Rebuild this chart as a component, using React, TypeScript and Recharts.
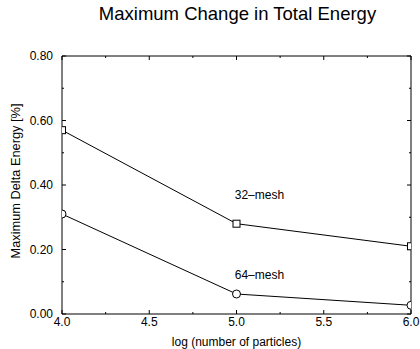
import React from 'react';
import { LineChart, Line, XAxis, YAxis, ReferenceDot, ReferenceArea, ReferenceLine } from 'recharts';

const particlesLog = [4.0, 5.0, 6.0];
const mesh32 = [0.57, 0.28, 0.21];
const mesh64 = [0.31, 0.062, 0.027];
const xMajor = [4.0, 4.5, 5.0, 5.5, 6.0];
const xMinor = [4.25, 4.75, 5.25, 5.75];
const yMajor = [0, 0.2, 0.4, 0.6, 0.8];
const yMinor = [0.1, 0.3, 0.5, 0.7];

const X_MIN = 4, X_MAX = 6, Y_MIN = 0, Y_MAX = 0.8;

const data = particlesLog.map((x, i) => ({ x, m32: mesh32[i], m64: mesh64[i] }));

const FONT = '"Liberation Sans", Arial, Helvetica, sans-serif';

// tick lengths expressed in data units (4px major, 2px minor)
const TX_MAJ = 0.0124, TX_MIN = 0.0062;
const TY_MAJ = 0.0229, TY_MIN = 0.0115;

const SquareDot = (props: any) => {
  const { cx, cy } = props;
  if (cx == null || cy == null) return null;
  return <rect x={cx - 3.5} y={cy - 3.5} width={7} height={7} fill="#fff" stroke="#000" strokeWidth={1} />;
};
const CircleDot = (props: any) => {
  const { cx, cy } = props;
  if (cx == null || cy == null) return null;
  return <circle cx={cx} cy={cy} r={4} fill="#fff" stroke="#000" strokeWidth={1} />;
};

const YTitle = () => {
  const x = 20;
  const cy = 181;
  return (
    <text x={x} y={cy} transform={`rotate(-90, ${x}, ${cy})`} textAnchor="middle" fontSize={12.8} fill="#000" fontFamily={FONT}>
      Maximum Delta Energy [%]
    </text>
  );
};

export default function App() {
  const segs: Array<[number, number, number, number]> = [];
  xMajor.forEach((v) => {
    segs.push([v, Y_MIN, v, Y_MIN + TX_MAJ]);
    segs.push([v, Y_MAX, v, Y_MAX - TX_MAJ]);
  });
  xMinor.forEach((v) => {
    segs.push([v, Y_MIN, v, Y_MIN + TX_MIN]);
    segs.push([v, Y_MAX, v, Y_MAX - TX_MIN]);
  });
  yMajor.forEach((v) => {
    segs.push([X_MIN, v, X_MIN + TY_MAJ, v]);
    segs.push([X_MAX, v, X_MAX - TY_MAJ, v]);
  });
  yMinor.forEach((v) => {
    segs.push([X_MIN, v, X_MIN + TY_MIN, v]);
    segs.push([X_MAX, v, X_MAX - TY_MIN, v]);
  });

  return (
    <div style={{ position: 'absolute', left: 0, top: 0, width: 420, height: 349, background: '#fff', fontFamily: FONT }}>
      <div style={{ position: 'absolute', left: 0, top: 3, width: 475, textAlign: 'center', fontSize: 18.5, color: '#000', fontFamily: FONT, whiteSpace: 'nowrap' }}>
        Maximum Change in Total Energy
      </div>
      <LineChart width={420} height={349} data={data} margin={{ top: 56, right: 9, bottom: 0, left: 0 }} style={{ fontFamily: FONT, position: 'absolute', left: 0, top: 0 }}>
        <XAxis xAxisId="b" dataKey="x" type="number" domain={[X_MIN, X_MAX]} ticks={xMajor} orientation="bottom" height={35}
          tickLine={false} tickSize={0} tickMargin={3} axisLine={false} allowDataOverflow
          tick={{ fontSize: 12, fill: '#000' }} tickFormatter={(v: number) => v.toFixed(1)}
          label={{ value: 'log (number of particles)', position: 'insideBottom', offset: 3, fontSize: 12, fill: '#000' }} />
        <YAxis yAxisId="l" type="number" domain={[Y_MIN, Y_MAX]} ticks={yMajor} orientation="left" width={62}
          tickLine={false} tickSize={0} tickMargin={9} axisLine={false} allowDataOverflow
          tick={{ fontSize: 12, fill: '#000' }} tickFormatter={(v: number) => v.toFixed(2)}
          label={<YTitle />} />
        <ReferenceArea xAxisId="b" yAxisId="l" x1={X_MIN} x2={X_MAX} y1={Y_MIN} y2={Y_MAX} fill="none" fillOpacity={0} stroke="#000" strokeWidth={1} strokeOpacity={1} />
        {segs.map((s, i) => (
          <ReferenceLine key={i} xAxisId="b" yAxisId="l" segment={[{ x: s[0], y: s[1] }, { x: s[2], y: s[3] }]} stroke="#000" strokeWidth={1} ifOverflow="visible" />
        ))}
        <Line xAxisId="b" yAxisId="l" dataKey="m32" stroke="#000" strokeWidth={1} dot={<SquareDot />} isAnimationActive={false} />
        <Line xAxisId="b" yAxisId="l" dataKey="m64" stroke="#000" strokeWidth={1} dot={<CircleDot />} isAnimationActive={false} />
        <ReferenceDot xAxisId="b" yAxisId="l" x={4.99} y={0.369} r={0} fill="none" stroke="none"
          label={{ value: '32–mesh', position: 'right', offset: 0, fontSize: 12, fill: '#000' }} />
        <ReferenceDot xAxisId="b" yAxisId="l" x={4.99} y={0.121} r={0} fill="none" stroke="none"
          label={{ value: '64–mesh', position: 'right', offset: 0, fontSize: 12, fill: '#000' }} />
      </LineChart>
    </div>
  );
}
